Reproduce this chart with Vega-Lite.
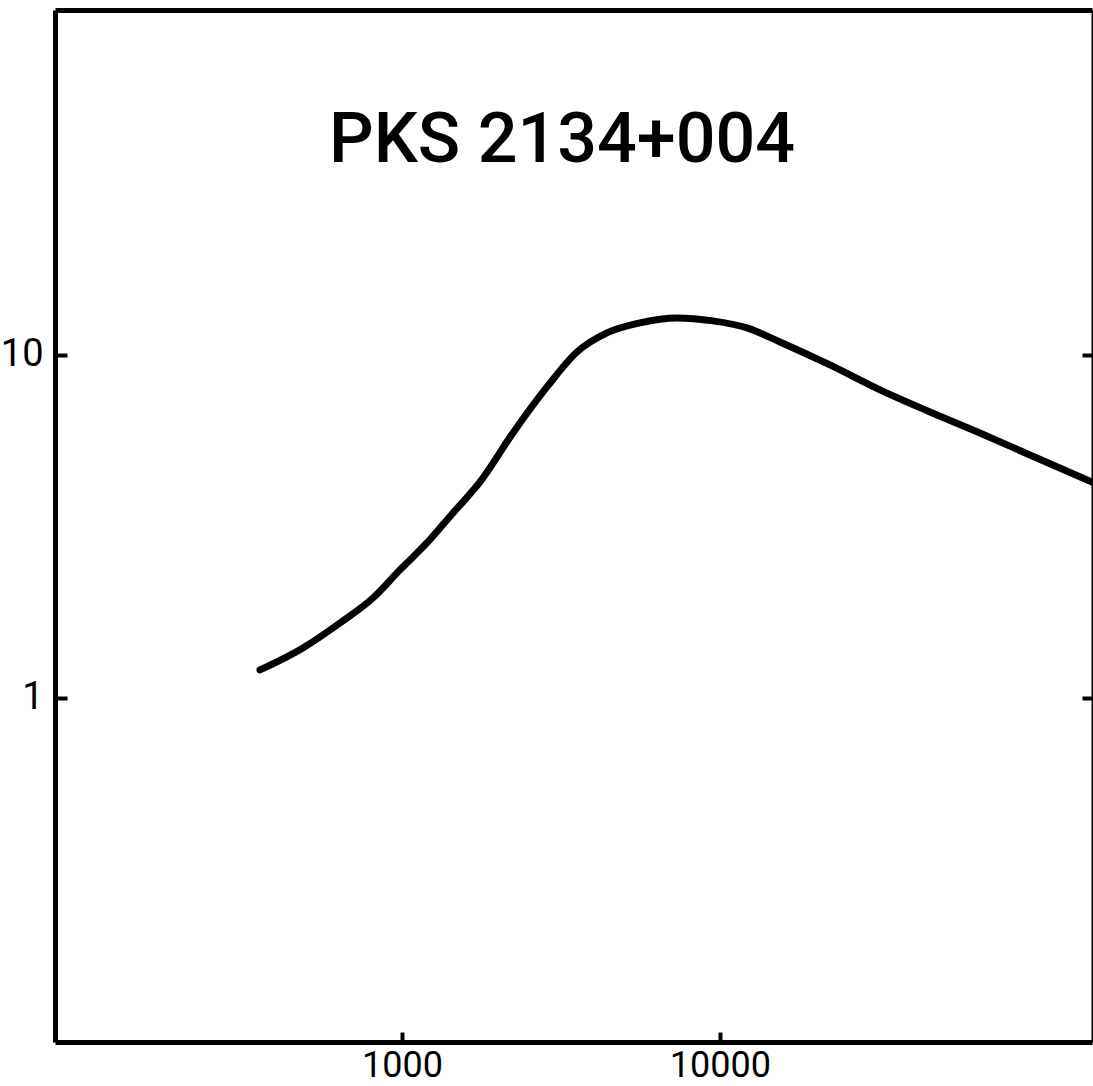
{
  "$schema": "https://vega.github.io/schema/vega-lite/v6.json",
  "width": 1037,
  "height": 1032,
  "autosize": {"type": "none"},
  "padding": {"left": 55, "top": 10, "right": 1, "bottom": 44},
  "background": "white",
  "config": {
    "view": {"stroke": null},
    "axis": {
      "grid": false,
      "domainColor": "black",
      "tickColor": "black",
      "labelColor": "black",
      "labelFont": "Roboto",
      "labelFontSize": 40,
      "title": null
    }
  },
  "resolve": {"axis": {"x": "independent", "y": "independent"}},
  "layer": [
    {
      "data": {
        "values": [
          {"freq": 357.7, "flux": 1.207},
          {"freq": 488.3, "flux": 1.399},
          {"freq": 638.3, "flux": 1.654},
          {"freq": 810.5, "flux": 1.956},
          {"freq": 985.6, "flux": 2.362},
          {"freq": 1198, "flux": 2.83},
          {"freq": 1447, "flux": 3.462},
          {"freq": 1760, "flux": 4.264},
          {"freq": 2234, "flux": 5.925},
          {"freq": 2858, "flux": 8.067},
          {"freq": 3551, "flux": 10.2},
          {"freq": 4413, "flux": 11.59},
          {"freq": 5603, "flux": 12.4},
          {"freq": 7324, "flux": 12.82},
          {"freq": 9506, "flux": 12.57},
          {"freq": 12160, "flux": 11.99},
          {"freq": 15440, "flux": 10.91},
          {"freq": 22180, "flux": 9.35},
          {"freq": 31860, "flux": 7.91},
          {"freq": 45750, "flux": 6.82},
          {"freq": 65720, "flux": 5.92},
          {"freq": 94360, "flux": 5.11},
          {"freq": 147900, "flux": 4.26}
        ]
      },
      "mark": {"type": "line", "interpolate": "monotone", "color": "black", "strokeWidth": 7, "strokeCap": "round", "clip": true},
      "encoding": {
        "x": {
          "field": "freq", "type": "quantitative",
          "scale": {"type": "log", "domain": [81.1, 147900], "nice": false},
          "axis": {"orient": "bottom", "values": [1000, 10000], "format": "d", "domainWidth": 5, "tickWidth": 4, "tickSize": -10, "labelPadding": 16, "labelFontSize": 36}
        },
        "y": {
          "field": "flux", "type": "quantitative",
          "scale": {"type": "log", "domain": [0.0993, 101.3], "nice": false},
          "axis": {"orient": "left", "values": [1, 10], "format": "d", "domainWidth": 5, "tickWidth": 4, "tickSize": -12, "labelPadding": 24, "labelFontSize": 38}
        }
      }
    },
    {
      "data": {"values": [{"freq": 3186, "flux": 42.06, "label": "PKS  2134+004"}]},
      "mark": {"type": "text", "font": "Roboto", "fontSize": 70, "fontWeight": 500, "align": "center", "baseline": "middle", "color": "black"},
      "encoding": {
        "x": {
          "field": "freq", "type": "quantitative",
          "scale": {"type": "log", "domain": [81.1, 147900], "nice": false},
          "axis": {"orient": "top", "labels": false, "ticks": false, "domainWidth": 5}
        },
        "y": {
          "field": "flux", "type": "quantitative",
          "scale": {"type": "log", "domain": [0.0993, 101.3], "nice": false},
          "axis": {"orient": "right", "labels": false, "values": [1, 10], "tickWidth": 4, "tickSize": -10, "domainWidth": 2}
        },
        "text": {"field": "label"}
      }
    }
  ]
}
